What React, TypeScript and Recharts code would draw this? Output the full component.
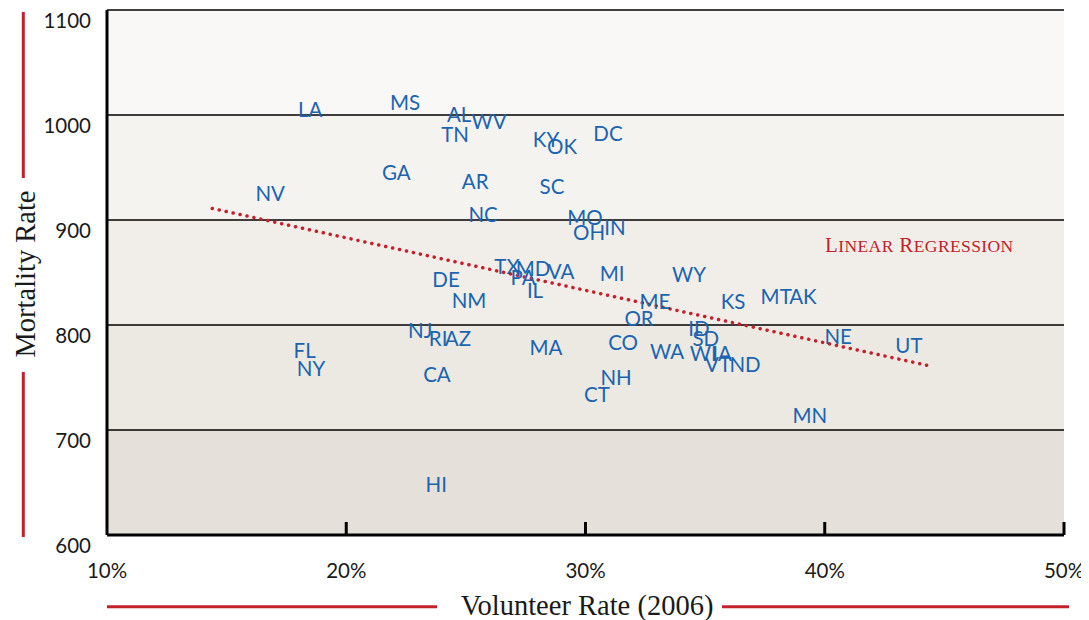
import React from 'react';
import {
  ScatterChart,
  Scatter,
  XAxis,
  YAxis,
  ReferenceArea,
  ReferenceLine,
} from 'recharts';

// ---- data ----
const states = ['LA','MS','AL','WV','TN','KY','OK','DC','GA','AR','SC','NV','NC','MO','IN','OH','TX','MD','VA','PA','IL','MI','WY','DE','NM','ME','KS','MT','AK','OR','ID','NJ','RI','AZ','NE','SD','CO','UT','MA','WA','FL','WI','IA','VT','ND','NY','CA','NH','CT','MN','HI'];
const volunteerRates = [18.49,22.46,24.72,25.97,24.55,28.35,29.02,30.94,22.09,25.39,28.6,16.82,25.72,29.98,31.23,30.15,26.72,27.81,28.98,27.39,27.89,31.11,34.33,24.17,25.13,32.9,36.17,37.97,39.09,32.24,34.74,23.09,23.84,24.67,40.56,35.03,31.57,43.52,28.35,33.41,18.26,34.92,35.71,35.54,36.67,18.53,23.79,31.28,30.48,39.38,23.76];
const mortalityRates = [1005.9,1012.6,1001.1,994.5,982.1,977.3,970.6,983,945.9,937.3,932.5,925.8,905.8,902.9,893.4,888.6,856.2,854.3,851.4,845.7,833.3,849.6,848.6,843.8,823.8,822.9,822.9,827.6,827.6,806.7,797.2,795.2,787.6,787.6,789.5,787.6,783.8,780.9,779,775.2,776.6,773.3,773.3,762.8,762.8,759.5,753.8,750.4,734.2,714.2,648.4];

const regressionX = [14.4, 44.4];
const regressionY = [911, 761];

const xTicks = [10, 20, 30, 40, 50];
const yTicks = [600, 700, 800, 900, 1000, 1100];
const gridValues = [700, 800, 900, 1000, 1100];
const bandLows = [1000, 900, 800, 700, 600];
const bandHighs = [1100, 1000, 900, 800, 700];
const bandColors = ['#f9f8f6', '#f5f3f0', '#f1eeea', '#ece9e3', '#e5e0da'];

const points = states.map((s, i) => ({ state: s, x: volunteerRates[i], y: mortalityRates[i] }));
const regression = regressionX.map((x, i) => ({ x, y: regressionY[i] }));

// ---- styles ----
const RED = '#c4202a';
const BLUE = '#1a64b0';
const SANS = 'Lato, "Open Sans", sans-serif';
const SERIF = '"Liberation Serif", "Times New Roman", serif';

const W = 1081;
const H = 612;

const StateLabel = (props: any) => {
  const { cx, cy, payload } = props;
  if (cx == null || cy == null) return <g />;
  return (
    <text
      x={cx}
      y={cy}
      textAnchor="middle"
      dominantBaseline="central"
      fill={BLUE}
      fontFamily={SANS}
      fontSize={20.5}
    >
      {payload.state}
    </text>
  );
};

const XTick = (props: any) => {
  const { x, y, payload } = props;
  return (
    <g>
      {payload.value > 10 && (
        <line x1={x} x2={x} y1={y} y2={y - 13} stroke="#000" strokeWidth={3} />
      )}
      <text
        x={x}
        y={y + 35}
        textAnchor="middle"
        dominantBaseline="central"
        fill="#1a1a1a"
        fontFamily={SANS}
        fontSize={20.5}
      >
        {payload.value}%
      </text>
    </g>
  );
};

const YTick = (props: any) => {
  const { x, y, payload } = props;
  return (
    <text
      x={x}
      y={y + 10}
      textAnchor="end"
      dominantBaseline="central"
      fill="#1a1a1a"
      fontFamily={SANS}
      fontSize={20.5}
    >
      {payload.value}
    </text>
  );
};

export default function App() {
  return (
    <div style={{ position: 'relative', width: W, height: H, fontFamily: SANS }}>
      <style>{'html,body{overflow:hidden;}'}</style>
      <ScatterChart
        width={W}
        height={H}
        margin={{ top: 2, right: 25, bottom: 55, left: 0 }}
      >
        {bandLows.map((lo, i) => (
          <ReferenceArea
            key={'band' + i}
            y1={lo}
            y2={bandHighs[i]}
            fill={bandColors[i]}
            fillOpacity={1}
            stroke="none"
          />
        ))}
        {gridValues.map((v) => (
          <ReferenceLine key={'g' + v} y={v} stroke="#000" strokeWidth={1.5} />
        ))}
        <XAxis
          type="number"
          dataKey="x"
          domain={[10, 50]}
          ticks={xTicks}
          interval={0}
          tick={<XTick />}
          tickLine={false}
          tickSize={0}
          tickMargin={0}
          axisLine={{ stroke: '#000', strokeWidth: 3 }}
          height={30}
        />
        <YAxis
          type="number"
          dataKey="y"
          domain={[600, 1100]}
          ticks={yTicks}
          interval={0}
          tick={<YTick />}
          tickLine={false}
          tickSize={0}
          tickMargin={16}
          axisLine={{ stroke: '#000', strokeWidth: 3 }}
          width={99}
        />
        <Scatter
          data={regression}
          line={{ stroke: RED, strokeWidth: 3.5, strokeDasharray: '0.1 7', strokeLinecap: 'round' }}
          shape={() => <g />}
          isAnimationActive={false}
        />
        <Scatter data={points} shape={<StateLabel />} isAnimationActive={false} />
      </ScatterChart>
      <svg
        width={W}
        height={H}
        style={{ position: 'absolute', left: 0, top: 0, pointerEvents: 'none', overflow: 'visible' }}
      >
        <line x1={15.3} x2={15.3} y1={4} y2={170} stroke={RED} strokeWidth={3} />
        <line x1={15.3} x2={15.3} y1={364} y2={529} stroke={RED} strokeWidth={3} />
        <text
          x={17}
          y={266}
          transform="rotate(-90 17 266)"
          textAnchor="middle"
          dominantBaseline="central"
          fontFamily={SERIF}
          fontSize={28.5}
          fill="#1a1a1a"
        >
          Mortality Rate
        </text>
        <line x1={99} x2={429} y1={598.7} y2={598.7} stroke={RED} strokeWidth={3} />
        <line x1={714} x2={1061} y1={598.7} y2={598.7} stroke={RED} strokeWidth={3} />
        <text
          x={579}
          y={597}
          textAnchor="middle"
          dominantBaseline="central"
          fontFamily={SERIF}
          fontSize={28.5}
          fill="#1a1a1a"
        >
          Volunteer Rate (2006)
        </text>
        <text x={817} y={244} fontFamily={SERIF} fill={RED} letterSpacing={0.4}>
          <tspan fontSize={21}>L</tspan>
          <tspan fontSize={17.5}>INEAR</tspan>
          <tspan fontSize={21}> R</tspan>
          <tspan fontSize={17.5}>EGRESSION</tspan>
        </text>
      </svg>
    </div>
  );
}
